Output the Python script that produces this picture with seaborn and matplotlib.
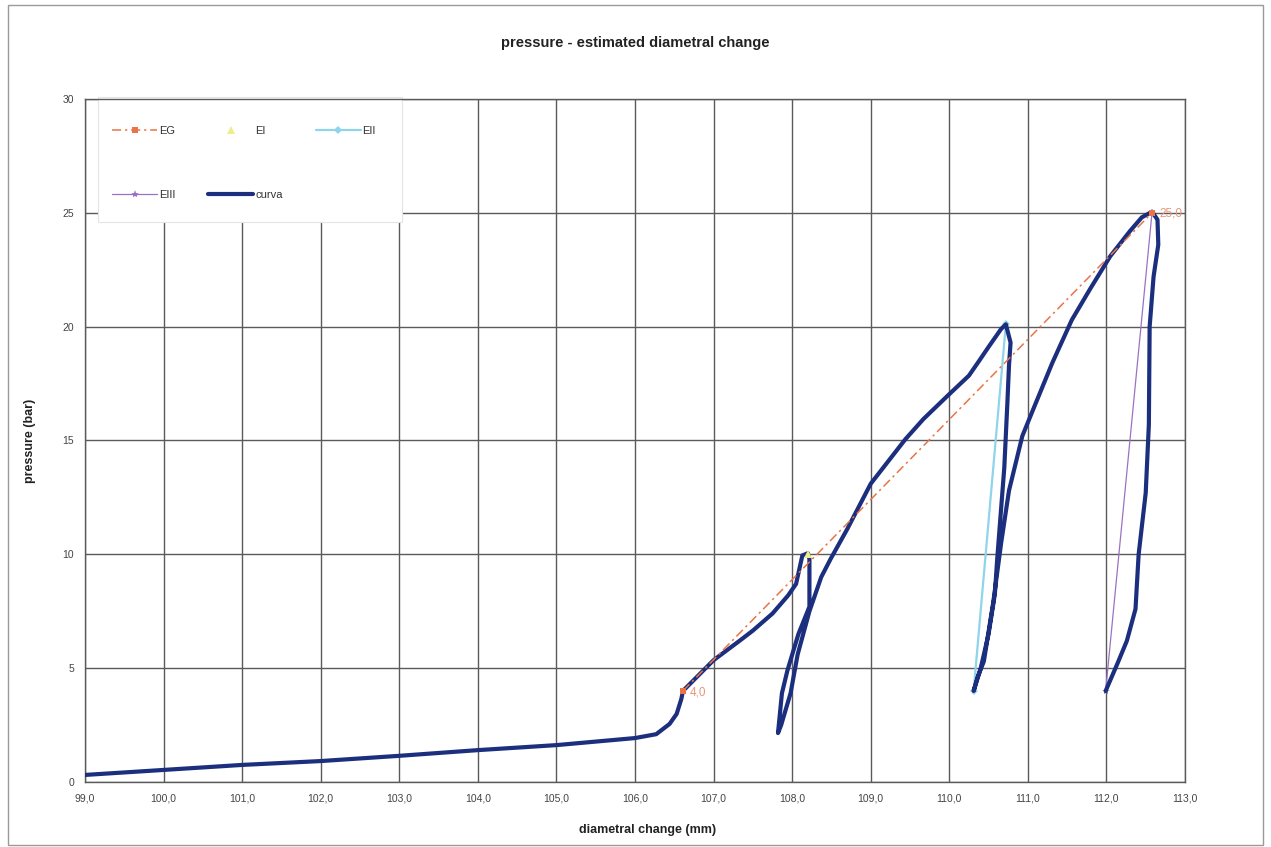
import numpy as np
import pandas as pd
import matplotlib
matplotlib.use("Agg")
import matplotlib.pyplot as plt
from matplotlib.patches import Rectangle
from matplotlib.lines import Line2D
import seaborn as sns

# ---------------- data ----------------
title = "pressure - estimated diametral change"
x_label = "diametral change (mm)"
y_label = "pressure (bar)"

x_ticks = [99.0, 100.0, 101.0, 102.0, 103.0, 104.0, 105.0, 106.0,
           107.0, 108.0, 109.0, 110.0, 111.0, 112.0, 113.0]
x_tick_labels = ["99,0", "100,0", "101,0", "102,0", "103,0", "104,0", "105,0",
                 "106,0", "107,0", "108,0", "109,0", "110,0", "111,0", "112,0", "113,0"]
y_ticks = [0, 5, 10, 15, 20, 25, 30]
y_tick_labels = ["0", "5", "10", "15", "20", "25", "30"]

# main measured curve ("curva")
curva_x = [99.0, 100.0, 101.0, 102.0, 103.0, 104.0, 105.0, 106.0, 106.27, 106.44,
           106.53, 106.59, 106.61, 107.0, 107.33, 107.5, 107.75, 107.95, 108.05,
           108.13, 108.2, 108.22, 108.22, 108.08, 107.94, 107.87, 107.82,
           107.86, 107.98, 108.07, 108.22, 108.37, 108.49, 108.70, 109.0, 109.44,
           109.67, 109.98, 110.25, 110.38, 110.51, 110.66, 110.72,
           110.78, 110.76, 110.74, 110.70, 110.61, 110.58, 110.50, 110.40, 110.31,
           110.36, 110.44, 110.56, 110.66, 110.76, 110.93, 111.06, 111.31, 111.56,
           111.80, 112.05, 112.30, 112.45, 112.58,
           112.65, 112.66, 112.60, 112.55, 112.54, 112.50, 112.41, 112.37, 112.26,
           112.14, 111.99]
curva_y = [0.31, 0.53, 0.75, 0.92, 1.15, 1.4, 1.62, 1.93, 2.1, 2.55,
           2.99, 3.65, 4.0, 5.35, 6.2, 6.65, 7.4, 8.2, 8.7,
           9.95, 10.05, 9.8, 7.7, 6.5, 4.9, 3.9, 2.15,
           2.5, 3.9, 5.6, 7.5, 9.0, 9.8, 11.1, 13.1, 15.05,
           15.94, 16.97, 17.85, 18.5, 19.16, 19.9, 20.1,
           19.3, 18.3, 16.7, 13.8, 9.8, 8.25, 6.5, 5.0, 4.0,
           4.6, 5.3, 7.9, 10.5, 12.8, 15.2, 16.3, 18.4, 20.3,
           21.7, 23.1, 24.2, 24.8, 25.05,
           24.7, 23.6, 22.2, 20.0, 15.7, 12.7, 10.0, 7.6, 6.2,
           5.2, 4.0]

# estimated series
eg_x = [106.61, 112.58]
eg_y = [4.0, 25.0]
ei_x = [108.2]
ei_y = [10.0]
eii_x = [110.31, 110.72]
eii_y = [4.0, 20.1]
eiii_x = [111.99, 112.58]
eiii_y = [4.0, 25.0]

# ---------------- style ----------------
sns.set_style("white")
plt.rcParams["font.family"] = ["Liberation Sans", "DejaVu Sans"]

W, H = 1271, 847
fig = plt.figure(figsize=(W / 100, H / 100), dpi=100)
ax = fig.add_axes([85 / W, 1 - 782 / H, 1100 / W, 683 / H])

navy = "#1c2e7e"
c_eg = "#ea7448"
c_ei = "#eeec8c"
c_eii = "#8fd4ea"
c_eiii = "#9a72c4"
eg_ls = (0, (6, 2.5, 1.5, 2.5))

df_curva = pd.DataFrame({"x": curva_x, "y": curva_y})
df_eg = pd.DataFrame({"x": eg_x, "y": eg_y})
df_ei = pd.DataFrame({"x": ei_x, "y": ei_y})
df_eii = pd.DataFrame({"x": eii_x, "y": eii_y})
df_eiii = pd.DataFrame({"x": eiii_x, "y": eiii_y})

sns.lineplot(data=df_eii, x="x", y="y", sort=False, estimator=None, ax=ax,
             color=c_eii, lw=1.6, marker="D", markersize=4, markeredgewidth=0,
             zorder=3)
sns.lineplot(data=df_eiii, x="x", y="y", sort=False, estimator=None, ax=ax,
             color=c_eiii, lw=0.9, marker="*", markersize=6, markeredgewidth=0,
             zorder=3)
sns.lineplot(data=df_curva, x="x", y="y", sort=False, estimator=None, ax=ax,
             color=navy, lw=3.0, zorder=4)
sns.lineplot(data=df_eg, x="x", y="y", sort=False, estimator=None, ax=ax,
             color=c_eg, lw=1.1, linestyle=eg_ls, marker="s",
             markersize=5, markeredgewidth=0, zorder=5)
sns.lineplot(data=df_ei, x="x", y="y", sort=False, estimator=None, ax=ax,
             color=c_ei, lw=0, marker="^", markersize=6, markeredgewidth=0,
             zorder=5)

for xv, yv in zip(eg_x, eg_y):
    ax.annotate(f"{yv:.1f}".replace(".", ","), (xv, yv), xytext=(5, -3),
                textcoords="offset points", color="#e8967a", fontsize=8.5,
                zorder=6)

ax.set_xlim(99, 113)
ax.set_ylim(0, 30)
ax.set_xticks(x_ticks)
ax.set_xticklabels(x_tick_labels)
ax.set_yticks(y_ticks)
ax.set_yticklabels(y_tick_labels)
ax.tick_params(axis="both", labelsize=7.5, colors="#444444", length=4, width=0.8,
               direction="out", pad=4)
ax.grid(True, color="#5a5a5a", lw=1.0)
ax.set_axisbelow(True)
for s in ax.spines.values():
    s.set_color("#5a5a5a")
    s.set_linewidth(1.0)

ax.set_xlabel(x_label, fontsize=9, fontweight="bold", color="#222222")
ax.set_ylabel(y_label, fontsize=9, fontweight="bold", color="#222222")
ax.xaxis.set_label_coords(0.511, -0.062)
ax.yaxis.set_label_coords(-0.045, 0.5)

fig.text(0.4996, 1 - 42.7 / H, title, ha="center", va="center",
         fontsize=10.5, fontweight="bold", color="#222222")

# legend background box
ax.add_patch(Rectangle(((98 - 85) / 1100, 1 - (222 - 99) / 683), 304 / 1100, 125 / 683,
                       transform=ax.transAxes, facecolor="white",
                       edgecolor="#e4e4e4", lw=0.8, zorder=1.5, clip_on=False))

h_eg = Line2D([], [], color=c_eg, lw=1.1, linestyle=eg_ls,
              marker="s", markersize=5, markeredgewidth=0)
h_ei = Line2D([], [], color=c_ei, lw=0, marker="^", markersize=6, markeredgewidth=0)
h_eii = Line2D([], [], color=c_eii, lw=1.6, marker="D", markersize=4, markeredgewidth=0)
h_eiii = Line2D([], [], color=c_eiii, lw=0.9, marker="*", markersize=6, markeredgewidth=0)
h_cur = Line2D([], [], color=navy, lw=3.0)
leg = ax.legend([h_eg, h_eiii, h_ei, h_cur, h_eii],
                ["EG", "EIII", "EI", "curva", "EII"],
                ncol=3, loc="upper left",
                bbox_to_anchor=((112 - 85) / 1100, 1 - (126 - 99) / 683),
                frameon=False, fontsize=8, handlelength=4.05, handletextpad=0.15,
                columnspacing=3.0, labelspacing=4.85, borderpad=0, borderaxespad=0)
for t in leg.get_texts():
    t.set_color("#333333")
leg.set_zorder(7)

# outer border of the figure
fig.patches.append(Rectangle((8 / W, 2 / H), (1263 - 8) / W, (842 - 2) / H,
                             transform=fig.transFigure, fill=False,
                             edgecolor="#9a9a9a", lw=1.0))

fig.savefig("out.png", dpi=100)
